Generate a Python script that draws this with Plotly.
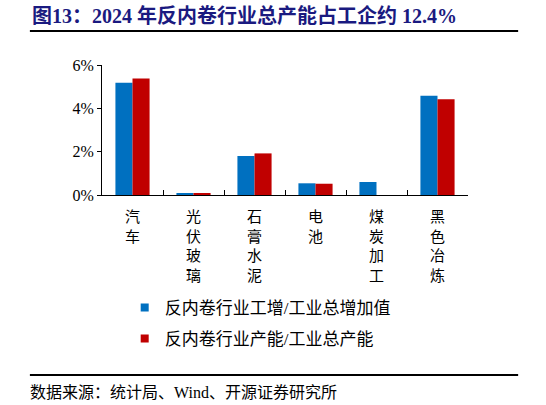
import plotly.graph_objects as go

# 行业分类
categories = ["汽<br>车", "光<br>伏<br>玻<br>璃", "石<br>膏<br>水<br>泥", "电<br>池", "煤<br>炭<br>加<br>工", "黑<br>色<br>冶<br>炼"]
# 反内卷行业工增/工业总增加值 (%)
value_added_share = [5.18, 0.06, 1.80, 0.54, 0.60, 4.58]
# 反内卷行业产能/工业总产能 (%)
capacity_share = [5.38, 0.07, 1.92, 0.52, 0.0, 4.42]
y_ticks = [0, 2, 4, 6]
y_tick_text = ["0%", "2%", "4%", "6%"]

series_names = ["反内卷行业工增/工业总增加值", "反内卷行业产能/工业总产能"]
colors = ["#0070C0", "#C00000"]
font_fam = "Liberation Serif, Noto Sans CJK SC"

fig = go.Figure()
for name, vals, col in zip(series_names, [value_added_share, capacity_share], colors):
    fig.add_trace(go.Bar(x=categories, y=vals, name=name, marker_color=col,
                         marker_line_width=0, showlegend=False))
# 图例用小方块
for i, (name, col) in enumerate(zip(series_names, colors)):
    fig.add_trace(go.Scatter(x=[None], y=[None], mode="markers", name=name,
                             legendgroup="g%d" % i,
                             marker=dict(symbol="square", size=8, color=col)))

fig.update_layout(
    width=546, height=405,
    margin=dict(l=102, r=78, t=65, b=210),
    plot_bgcolor="white", paper_bgcolor="white",
    barmode="group", bargap=0.44, bargroupgap=0,
    font=dict(family=font_fam, color="black"),
    title=dict(text="<b>图13：2024 年反内卷行业总产能占工企约 12.4%</b>",
               x=32 / 546, xanchor="left", y=1 - 16 / 405, yanchor="middle",
               font=dict(size=20, color="#1a1a80", family=font_fam)),
    legend=dict(x=0.062, y=-0.73, xanchor="left", yanchor="top",
                font=dict(size=17), tracegroupgap=6, traceorder="grouped",
                bgcolor="rgba(0,0,0,0)"),
)
fig.update_xaxes(type="category", showline=True, linecolor="black", linewidth=1,
                 ticks="inside", tickson="boundaries", ticklen=5, tickcolor="black",
                 tickangle=0, tickfont=dict(size=15), ticklabelstandoff=8,
                 showgrid=False)
fig.update_yaxes(range=[0, 6], tickvals=y_ticks, ticktext=y_tick_text,
                 showline=True, linecolor="black", linewidth=1,
                 ticks="outside", ticklen=4, tickcolor="black",
                 tickfont=dict(size=16), showgrid=False, zeroline=False)

# 标题下横线与底部横线
for yy in [1.2615, -1.385]:
    fig.add_shape(type="line", xref="paper", yref="paper", layer="above",
                  x0=-0.197, x1=1.137, y0=yy, y1=yy,
                  line=dict(color="#000000", width=2))

fig.add_annotation(text="数据来源：统计局、Wind、开源证券研究所", xref="paper", yref="paper",
                   x=-0.202, y=-1.523, xanchor="left", yanchor="middle",
                   showarrow=False, font=dict(size=16, color="black"))

# 去掉页面默认的 8px 边距，隐藏工具栏
fig.write_html("out.html", config={"displayModeBar": False},
               post_script="document.body.style.margin='0';")
